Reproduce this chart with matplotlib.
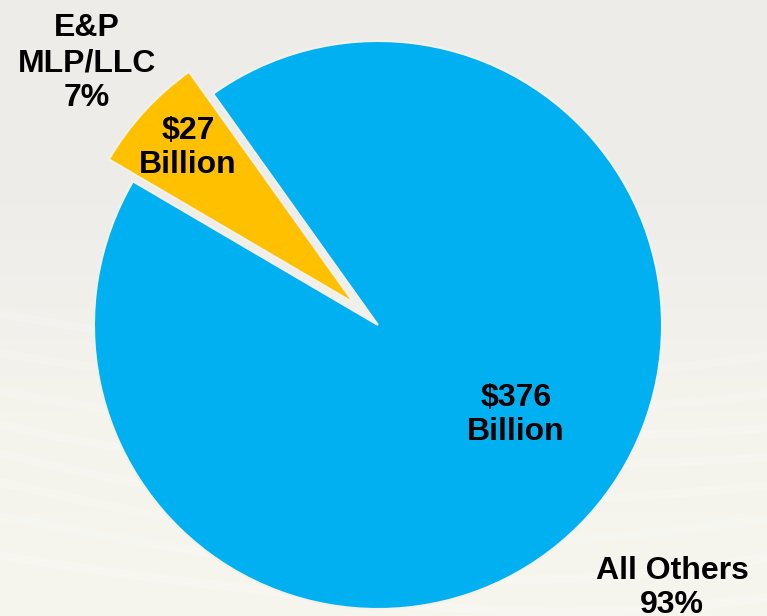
import numpy as np
import matplotlib
matplotlib.use("Agg")
import matplotlib.pyplot as plt
from matplotlib.colors import LinearSegmentedColormap

# Segment values (billions of dollars)
segments = ["E&P\nMLP/LLC", "All Others"]
values = [27, 376]
colors = ["#FFC000", "#00B0F0"]

W, H = 767, 616
fig = plt.figure(figsize=(W / 100, H / 100), dpi=100)
ax = fig.add_axes([0, 0, 1, 1])

# soft grey-to-cream background with a few faint light streaks
bg = LinearSegmentedColormap.from_list("bg", ["#F7F6EE", "#F4F3EC", "#EEEDEA", "#EDECE9"])
grad = np.linspace(0, 1, 256).reshape(-1, 1)
ax.imshow(grad, extent=[0, W, 0, H], cmap=bg, aspect="auto", origin="lower", zorder=0)
xs = np.linspace(0, W, 200)
for k in range(8):
    base = 30 + k * 34
    ys = base + 0.08 * (xs - 380) ** 2 / 380 - 0.05 * xs + 6 * np.sin(xs / 140 + k)
    ax.plot(xs, ys, color="white", lw=6, alpha=0.2, zorder=1, solid_capstyle="butt")

total = sum(values)
radius = 284
wedges, _ = ax.pie(values, colors=colors, startangle=125.5, counterclock=True,
                   explode=[0.115 * radius, 0], radius=radius, center=(378, H - 325),
                   wedgeprops=dict(edgecolor="#F2F1EC", linewidth=1.5),
                   frame=True)
for w in wedges:
    w.set_zorder(3)
ax.set_xlim(0, W)
ax.set_ylim(0, H)
ax.axis("off")

font = dict(family="Liberation Sans", weight="bold", color="black",
            ha="center", va="center", zorder=5, fontsize=23, linespacing=1.2)
pct = [round(v / total * 100) for v in values]

ax.text(87, H - 63, f"{segments[0]}\n{pct[0]}%", **font)
ax.text(188, H - 148, f"${values[0]}\nBillion", **font)
ax.text(516, H - 415, f"${values[1]}\nBillion", **font)
ax.text(672, H - 588, f"{segments[1]}\n{pct[1]}%", **font)

fig.savefig("out.png", dpi=100)
